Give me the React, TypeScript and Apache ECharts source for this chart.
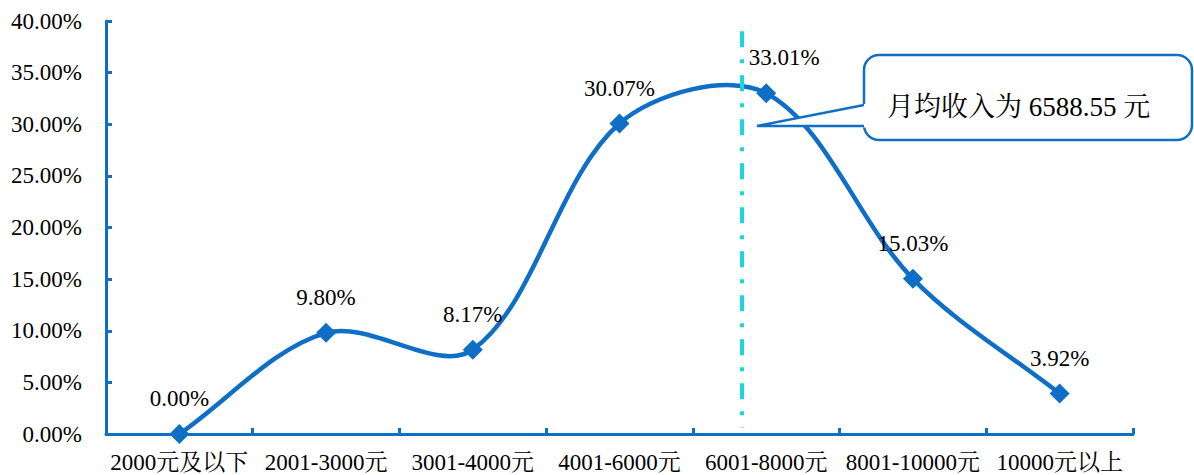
import React, { useEffect, useRef } from "react";
import * as echarts from "echarts";

const categories = [
  "2000元及以下",
  "2001-3000元",
  "3001-4000元",
  "4001-6000元",
  "6001-8000元",
  "8001-10000元",
  "10000元以上",
];
const shares = [0.0, 9.8, 8.17, 30.07, 33.01, 15.03, 3.92];
const yTicks = { min: 0, max: 40, interval: 5 };
const meanIncomeText = "月均收入为 6588.55 元";
// position of the mean line on a hidden 0..7 value axis (category units)
const meanLinePos = 4.33;

const FONT = '"Times New Roman", "Liberation Serif", "Noto Serif CJK SC", "Noto Sans CJK SC", serif';
const BLUE = "#0F6FC6";
const CYAN = "#1DD3DC";

function dist(a: number[], b: number[]) {
  return Math.hypot(a[0] - b[0], a[1] - b[1]);
}

export default function App() {
  const ref = useRef<HTMLDivElement>(null);
  useEffect(() => {
    if (!ref.current) return;
    const chart = echarts.init(ref.current, undefined, { renderer: "svg" });
    const n = shares.length;
    const option: any = {
      animation: false,
      backgroundColor: "#ffffff",
      grid: { left: 106, right: 61, top: 21, bottom: 41, containLabel: false },
      xAxis: [
        {
          type: "category",
          data: categories,
          boundaryGap: true,
          axisLine: { show: true, lineStyle: { color: BLUE, width: 3 } },
          axisTick: { show: true, inside: true, length: 6, lineStyle: { color: BLUE, width: 3 } },
          axisLabel: { interval: 0, color: "#000", fontFamily: FONT, fontSize: 23, margin: 17 },
          splitLine: { show: false },
        },
        { type: "value", min: 0, max: 7, show: false },
      ],
      yAxis: {
        type: "value",
        min: yTicks.min,
        max: yTicks.max,
        interval: yTicks.interval,
        axisLine: { show: true, lineStyle: { color: BLUE, width: 3 } },
        axisTick: { show: true, inside: true, length: 6, lineStyle: { color: BLUE, width: 3 } },
        axisLabel: {
          color: "#000",
          fontFamily: FONT,
          fontSize: 23,
          margin: 24,
          formatter: (v: number) => v.toFixed(2) + "%",
        },
        splitLine: { show: false },
      },
      series: [
        {
          type: "line",
          xAxisIndex: 1,
          data: [],
          silent: true,
          markLine: {
            silent: true,
            symbol: "none",
            label: { show: false },
            lineStyle: { color: CYAN, width: 4, type: [16, 12, 4, 12] },
            data: [[{ coord: [meanLinePos, 39] }, { coord: [meanLinePos, 0.6] }]],
          },
        },
        {
          type: "custom",
          data: shares.map((v, i) => [i, v]),
          encode: { x: 0, y: 1 },
          clip: false,
          silent: true,
          z: 3,
          renderItem: (params: any, api: any) => {
            const i = params.dataIndexInside;
            if (i >= n - 1) return null;
            const pt = (j: number) => {
              const k = Math.max(0, Math.min(n - 1, j));
              return api.coord([api.value(0, k), api.value(1, k)]);
            };
            const p0 = pt(i - 1), p1 = pt(i), p2 = pt(i + 1), p3 = pt(i + 2);
            const d01 = dist(p0, p1), d12 = dist(p1, p2), d23 = dist(p2, p3);
            const f1 = d01 + d12 > 0 ? d12 / (d01 + d12) / 3 : 0;
            const f2 = d12 + d23 > 0 ? d12 / (d12 + d23) / 3 : 0;
            return {
              type: "bezierCurve",
              shape: {
                x1: p1[0], y1: p1[1],
                x2: p2[0], y2: p2[1],
                cpx1: p1[0] + (p2[0] - p0[0]) * f1,
                cpy1: p1[1] + (p2[1] - p0[1]) * f1,
                cpx2: p2[0] - (p3[0] - p1[0]) * f2,
                cpy2: p2[1] - (p3[1] - p1[1]) * f2,
              },
              style: { stroke: BLUE, lineWidth: 4.5, fill: "none", lineCap: "round" },
            };
          },
        },
        {
          type: "scatter",
          data: shares.map((v, i) =>
            i === 4 ? { value: v, label: { offset: [18, 0] } } : v
          ),
          symbol: "diamond",
          symbolSize: 20,
          itemStyle: { color: BLUE, opacity: 1 },
          label: {
            show: true,
            position: "top",
            distance: 14,
            color: "#000",
            opacity: 1,
            fontFamily: FONT,
            fontSize: 23,
            formatter: (p: any) => Number(p.value).toFixed(2) + "%",
          },
          z: 5,
        },
      ],
      graphic: [
        {
          type: "rect",
          shape: { x: 864, y: 55, width: 328, height: 85, r: 15 },
          style: { fill: "#fff", stroke: BLUE, lineWidth: 2.5 },
          z: 10,
        },
        {
          type: "polygon",
          shape: { points: [[757, 126], [867, 103.5], [867, 127.5]] },
          style: { fill: "#fff", stroke: null },
          z: 11,
        },
        {
          type: "polyline",
          shape: { points: [[864, 105], [757, 126], [864, 126]] },
          style: { stroke: BLUE, lineWidth: 2.5, fill: null },
          z: 12,
        },
        {
          type: "text",
          x: 887,
          y: 107,
          style: {
            text: meanIncomeText,
            fill: "#000",
            font: `27px ${FONT}`,
            verticalAlign: "middle",
            align: "left",
          },
          z: 13,
        },
      ],
    };
    chart.setOption(option);
    return () => chart.dispose();
  }, []);
  return (
    <div
      ref={ref}
      style={{ position: "fixed", left: 0, top: 0, width: 1194, height: 475 }}
    />
  );
}
